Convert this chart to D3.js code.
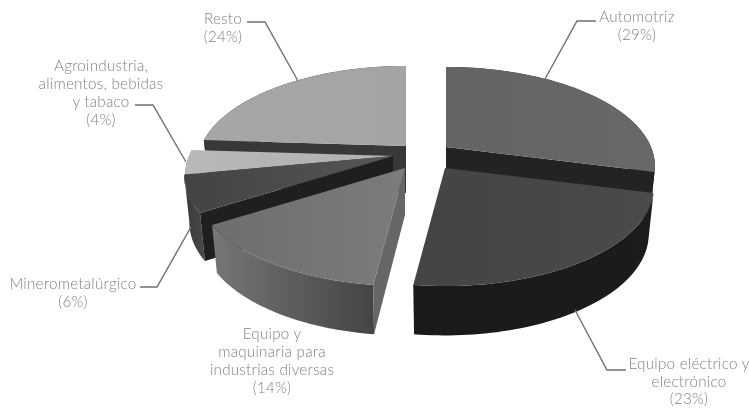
<!DOCTYPE html>
<html><head><meta charset="utf-8">
<script src="https://cdn.jsdelivr.net/npm/d3@7/dist/d3.min.js"></script>
<style>html,body{margin:0;padding:0;background:#fff}svg{display:block;filter:blur(.35px)}
text{font-family:Lato,"Open Sans",sans-serif;font-weight:300;font-size:15.2px;fill:#828282;text-anchor:middle;letter-spacing:.25px}</style>
</head><body><svg id="c" width="749" height="408"></svg>
<script>
const categories = ["Automotriz","Equipo eléctrico y electrónico","Equipo y maquinaria para industrias diversas","Minerometalúrgico","Agroindustria, alimentos, bebidas y tabaco","Resto"];
const shares = [29,23,14,6,4,24];
const labelLines = [["Automotriz","(29%)"],["Equipo eléctrico y","electrónico","(23%)"],["Equipo y","maquinaria para","industrias diversas","(14%)"],["Minerometalúrgico","(6%)"],["Agroindustria,","alimentos, bebidas","y tabaco","(4%)"],["Resto","(24%)"]];

// layout, separate from the data
const sliceApex = [[446,147],[445,168],[405,168],[393,156],[394,156],[406,146]];
const labelAnchor = [[637,22],[689,369],[272,339],[73,289],[101,71],[223,24]];
const lineStep = [18,17.5,18,18,18,18];
const leaders = [[[596,21],[577,21],[545,79]],[[626,370],[607,370],[575,310]],null,[[140,287],[157,287],[191,227]],[[135,105],[153,105],[186,162]],[[247,22],[265,22],[298,81]]];
const topColor = [["#646464","#686868"],["#444444","#4a4a4a"],["#6e6e6e","#7c7c7c"],["#434343","#565656"],["#b8b8b8","#b0b0b0"],["#a6a6a6","#a4a4a4"]];
const wallColor = [["#222","#222"],["#1a1a1a","#1c1c1c"],["#767676","#444444"],["#3a3a3a","#484848"],["#777","#777"],["#333","#333"]];
const cutColor = [{side:"end",c:"#232323"},null,{side:"start",c:"#666666"},{side:"start",c:"#1f1f1f"},null,{side:"start",c:"#383838"}];
const paintOrder = [5,0,4,3,2,1];
const persp=.192, radiusX=205, radiusY=95.4, depth=47, shrinkX=.975, growY=1.02;

const svg=d3.select("#c"), defs=svg.append("defs");
const arcs=d3.pie().sort(null).value(d=>d)(shares);
const line=d3.line();
function project(t,i,lower){
  const u=Math.sin(t), v=-Math.cos(t), s=1/(1-persp*v);
  let dx=radiusX*u*s, dy=radiusY*v*s, a=sliceApex[i];
  if(lower){dx*=shrinkX; dy=dy*growY+depth;}
  return [a[0]+dx,a[1]+dy];
}
function apex(i,lower){const a=sliceApex[i];return lower?[a[0],a[1]+depth]:[a[0],a[1]];}
function rim(d,i,lower){return d3.range(0,61).map(k=>project(d.startAngle+(d.endAngle-d.startAngle)*k/60,i,lower));}
function grad(id,cols){
  const g=defs.append("linearGradient").attr("id",id);
  g.append("stop").attr("offset","0").attr("stop-color",cols[0]);
  g.append("stop").attr("offset","1").attr("stop-color",cols[1]);
  return `url(#${id})`;
}
paintOrder.forEach(i=>{
  const d=arcs[i], top=rim(d,i,false), low=rim(d,i,true), g=svg.append("g");
  g.append("path").attr("d",line(top.concat(low.slice().reverse()))+"Z").attr("fill",grad("w"+i,wallColor[i]));
  if(cutColor[i]){
    const e=cutColor[i].side==="start"?0:top.length-1;
    g.append("path").attr("d",line([apex(i,false),top[e],low[e],apex(i,true)])+"Z").attr("fill",cutColor[i].c);
  }
  g.append("path").attr("d",line([apex(i,false)].concat(top))+"Z").attr("fill",grad("t"+i,topColor[i]));
});
leaders.forEach(l=>{ if(l) svg.append("path").attr("d",line(l)).attr("fill","none").attr("stroke","#6f6f6f").attr("stroke-width",1.4); });
labelLines.forEach((ls,i)=>{
  const t=svg.append("text").attr("data-category",categories[i]);
  ls.forEach((s,k)=>t.append("tspan").attr("x",labelAnchor[i][0]).attr("y",labelAnchor[i][1]+k*lineStep[i]).text(s));
});
</script></body></html>
